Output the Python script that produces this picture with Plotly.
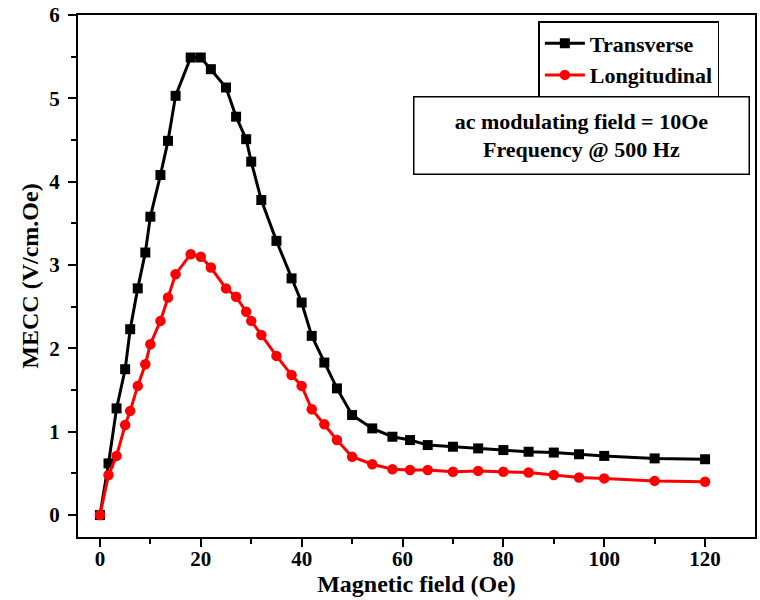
import plotly.graph_objects as go

# Magnetic bias field (Oe)
field = [0, 1.7, 3.3, 5, 6, 7.5, 9, 10, 12, 13.5, 15, 18, 20, 22, 25, 27, 29, 30,
         32, 35, 38, 40, 42, 44.5, 47, 50, 54, 58, 61.5, 65, 70, 75, 80, 85, 90,
         95, 100, 110, 120]

# ME coupling coefficient (V/cm.Oe)
transverse = [0, 0.62, 1.28, 1.75, 2.23, 2.72, 3.15, 3.58, 4.08, 4.49, 5.03, 5.49,
              5.49, 5.35, 5.13, 4.78, 4.51, 4.24, 3.78, 3.29, 2.84, 2.55, 2.15,
              1.83, 1.52, 1.20, 1.04, 0.94, 0.90, 0.84, 0.82, 0.80, 0.78, 0.76,
              0.75, 0.73, 0.71, 0.68, 0.67]
longitudinal = [0, 0.48, 0.71, 1.08, 1.25, 1.55, 1.81, 2.05, 2.33, 2.61, 2.89, 3.13,
                3.10, 2.97, 2.72, 2.62, 2.44, 2.33, 2.16, 1.91, 1.68, 1.55, 1.27,
                1.09, 0.90, 0.70, 0.61, 0.55, 0.54, 0.54, 0.52, 0.53, 0.52, 0.51,
                0.48, 0.45, 0.44, 0.41, 0.40]

FONT = "Liberation Serif"

fig = go.Figure()
fig.add_trace(go.Scatter(
    x=field, y=transverse, name="Transverse", mode="lines+markers",
    line=dict(color="black", width=3),
    marker=dict(symbol="square", size=10, color="black"),
))
fig.add_trace(go.Scatter(
    x=field, y=longitudinal, name="Longitudinal", mode="lines+markers",
    line=dict(color="#ff0000", width=3),
    marker=dict(symbol="circle", size=10.5, color="#ff0000"),
))

axis_common = dict(
    showline=True, linecolor="black", linewidth=2, mirror=True,
    ticks="outside", tickcolor="black", tickwidth=2, ticklen=8,
    showgrid=False, zeroline=False,
    tickfont=dict(family=FONT, size=21, color="black", weight="bold"),
    minor=dict(ticks="outside", ticklen=5, tickwidth=2, tickcolor="black"),
)

fig.update_xaxes(
    range=[-4.35, 129.9], tickmode="array", tickvals=[0, 20, 40, 60, 80, 100, 120],
    minor_tickvals=[10, 30, 50, 70, 90, 110],
    ticklabelstandoff=-6,
    title=dict(text="Magnetic field (Oe)", standoff=2,
               font=dict(family=FONT, size=24, color="black", weight="bold")),
    **axis_common,
)
fig.update_yaxes(
    range=[-0.263, 6], tickmode="array", tickvals=[0, 1, 2, 3, 4, 5, 6],
    minor_tickvals=[0.5, 1.5, 2.5, 3.5, 4.5, 5.5],
    ticklabelstandoff=4,
    title=dict(text="MECC (V/cm.Oe)", standoff=4,
               font=dict(family=FONT, size=24, color="black", weight="bold")),
    **axis_common,
)

fig.add_annotation(
    xref="paper", yref="paper", x=0.744, y=0.769,
    xanchor="center", yanchor="middle",
    text="ac modulating field = 10Oe<br>Frequency @ 500 Hz",
    showarrow=False, align="center", width=330, height=72,
    bordercolor="black", borderwidth=1.5, borderpad=2, bgcolor="white",
    font=dict(family=FONT, size=22, color="black", weight="bold"),
)

fig.update_layout(
    width=760, height=600,
    margin=dict(l=78, r=3, t=14, b=63),
    paper_bgcolor="white", plot_bgcolor="white",
    showlegend=True,
    legend=dict(
        x=0.68, y=0.9885, xanchor="left", yanchor="top",
        bordercolor="black", borderwidth=1.5, bgcolor="white",
        font=dict(family=FONT, size=22, color="black", weight="bold"),
        tracegroupgap=0, itemwidth=40,
    ),
)

fig.write_html("out.html")
